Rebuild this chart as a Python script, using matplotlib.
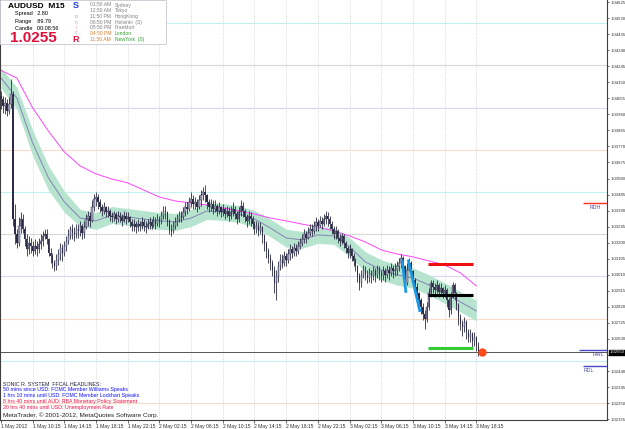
import numpy as np
import matplotlib.pyplot as plt
from matplotlib.patches import Rectangle
from matplotlib.transforms import blended_transform_factory

plt.rcParams['font.family'] = ['Liberation Sans', 'DejaVu Sans']

W, H = 625, 429

# AUDUSD M15 bars, 1 May 06:15 .. 3 May 18:45
first_open = 1.0407
closes = [
    1.0405, 1.0401, 1.0403, 1.0398, 1.0402, 1.0408, 1.0334, 1.0325, 1.0320, 1.0330,
    1.0334, 1.0328, 1.0322, 1.0316, 1.0320, 1.0318, 1.0315, 1.0318, 1.0316, 1.0319,
    1.0321, 1.0324, 1.0325, 1.0322, 1.0314, 1.0312, 1.0308, 1.0306, 1.0310, 1.0313,
    1.0317, 1.0314, 1.0318, 1.0321, 1.0324, 1.0328, 1.0326, 1.0325, 1.0328, 1.0327,
    1.0330, 1.0326, 1.0329, 1.0334, 1.0336, 1.0333, 1.0341, 1.0346, 1.0347, 1.0344,
    1.0341, 1.0339, 1.0341, 1.0338, 1.0339, 1.0336, 1.0335, 1.0337, 1.0334, 1.0336,
    1.0335, 1.0333, 1.0336, 1.0334, 1.0335, 1.0332, 1.0330, 1.0331, 1.0329, 1.0331,
    1.0330, 1.0332, 1.0330, 1.0329, 1.0331, 1.0332, 1.0330, 1.0333, 1.0331, 1.0334,
    1.0333, 1.0336, 1.0339, 1.0338, 1.0333, 1.0328, 1.0327, 1.0330, 1.0332, 1.0334,
    1.0336, 1.0335, 1.0338, 1.0341, 1.0340, 1.0344, 1.0346, 1.0343, 1.0344, 1.0341,
    1.0345, 1.0348, 1.0350, 1.0348, 1.0344, 1.0341, 1.0343, 1.0340, 1.0342, 1.0339,
    1.0341, 1.0338, 1.0340, 1.0337, 1.0339, 1.0336, 1.0338, 1.0340, 1.0337, 1.0334,
    1.0338, 1.0342, 1.0339, 1.0335, 1.0333, 1.0336, 1.0334, 1.0331, 1.0328, 1.0330,
    1.0327, 1.0329, 1.0324, 1.0319, 1.0315, 1.0311, 1.0308, 1.0304, 1.0296, 1.0300,
    1.0306, 1.0310, 1.0308, 1.0312, 1.0310, 1.0313, 1.0316, 1.0314, 1.0317, 1.0315,
    1.0318, 1.0320, 1.0322, 1.0325, 1.0323, 1.0326, 1.0328, 1.0327, 1.0330, 1.0332,
    1.0330, 1.0333, 1.0331, 1.0334, 1.0336, 1.0334, 1.0331, 1.0328, 1.0325, 1.0327,
    1.0323, 1.0321, 1.0324, 1.0320, 1.0317, 1.0314, 1.0316, 1.0312, 1.0309, 1.0306,
    1.0300, 1.0296, 1.0301, 1.0304, 1.0301, 1.0299, 1.0302, 1.0300, 1.0303, 1.0301,
    1.0304, 1.0302, 1.0300, 1.0303, 1.0301, 1.0304, 1.0302, 1.0305, 1.0303, 1.0304,
    1.0306, 1.0308, 1.0311, 1.0306, 1.0296, 1.0304, 1.0308, 1.0303, 1.0298, 1.0294,
    1.0290, 1.0286, 1.0282, 1.0278, 1.0275, 1.0282, 1.0290, 1.0296, 1.0294, 1.0292,
    1.0295, 1.0291, 1.0293, 1.0290, 1.0292, 1.0286, 1.0280, 1.0288, 1.0295, 1.0290,
    1.0283, 1.0276, 1.0272, 1.0270, 1.0273, 1.0267, 1.0264, 1.0266, 1.0262, 1.0264,
    1.0259, 1.0255,
]
highs = [
    1.0410, 1.0407, 1.0406, 1.0405, 1.0406, 1.0417, 1.0410, 1.0343, 1.0328, 1.0335,
    1.0338, 1.0337, 1.0330, 1.0325, 1.0324, 1.0323, 1.0321, 1.0322, 1.0321, 1.0323,
    1.0325, 1.0327, 1.0328, 1.0328, 1.0323, 1.0317, 1.0314, 1.0310, 1.0313, 1.0316,
    1.0320, 1.0319, 1.0321, 1.0324, 1.0328, 1.0330, 1.0331, 1.0329, 1.0331, 1.0331,
    1.0333, 1.0331, 1.0333, 1.0337, 1.0339, 1.0338, 1.0345, 1.0349, 1.0350, 1.0349,
    1.0346, 1.0343, 1.0344, 1.0342, 1.0342, 1.0340, 1.0338, 1.0339, 1.0338, 1.0339,
    1.0338, 1.0337, 1.0339, 1.0338, 1.0338, 1.0336, 1.0334, 1.0334, 1.0333, 1.0334,
    1.0333, 1.0335, 1.0334, 1.0333, 1.0334, 1.0335, 1.0334, 1.0336, 1.0335, 1.0337,
    1.0336, 1.0339, 1.0342, 1.0342, 1.0339, 1.0334, 1.0331, 1.0333, 1.0335, 1.0337,
    1.0339, 1.0339, 1.0341, 1.0344, 1.0344, 1.0347, 1.0350, 1.0348, 1.0347, 1.0346,
    1.0348, 1.0351, 1.0353, 1.0354, 1.0349, 1.0346, 1.0346, 1.0345, 1.0345, 1.0343,
    1.0344, 1.0342, 1.0343, 1.0341, 1.0342, 1.0341, 1.0342, 1.0344, 1.0342, 1.0339,
    1.0341, 1.0345, 1.0344, 1.0340, 1.0337, 1.0339, 1.0338, 1.0336, 1.0333, 1.0333,
    1.0332, 1.0332, 1.0330, 1.0325, 1.0321, 1.0317, 1.0313, 1.0310, 1.0306, 1.0304,
    1.0309, 1.0313, 1.0313, 1.0315, 1.0314, 1.0316, 1.0319, 1.0318, 1.0320, 1.0319,
    1.0321, 1.0323, 1.0325, 1.0328, 1.0327, 1.0329, 1.0331, 1.0331, 1.0333, 1.0335,
    1.0334, 1.0336, 1.0335, 1.0337, 1.0339, 1.0338, 1.0336, 1.0333, 1.0330, 1.0330,
    1.0328, 1.0325, 1.0326, 1.0325, 1.0321, 1.0318, 1.0319, 1.0317, 1.0314, 1.0311,
    1.0307, 1.0302, 1.0304, 1.0307, 1.0306, 1.0304, 1.0305, 1.0304, 1.0306, 1.0305,
    1.0307, 1.0306, 1.0304, 1.0306, 1.0305, 1.0307, 1.0306, 1.0308, 1.0307, 1.0308,
    1.0309, 1.0311, 1.0313, 1.0312, 1.0307, 1.0308, 1.0311, 1.0309, 1.0304, 1.0299,
    1.0296, 1.0291, 1.0287, 1.0284, 1.0280, 1.0285, 1.0293, 1.0298, 1.0298, 1.0296,
    1.0298, 1.0296, 1.0296, 1.0294, 1.0295, 1.0293, 1.0287, 1.0291, 1.0297, 1.0296,
    1.0291, 1.0284, 1.0278, 1.0274, 1.0276, 1.0274, 1.0269, 1.0269, 1.0267, 1.0267,
    1.0265, 1.0261,
]
lows = [
    1.0399, 1.0397, 1.0396, 1.0395, 1.0396, 1.0400, 1.0330, 1.0319, 1.0317, 1.0318,
    1.0326, 1.0326, 1.0318, 1.0312, 1.0313, 1.0314, 1.0312, 1.0313, 1.0312, 1.0314,
    1.0316, 1.0318, 1.0322, 1.0319, 1.0312, 1.0308, 1.0305, 1.0303, 1.0304, 1.0307,
    1.0310, 1.0309, 1.0312, 1.0315, 1.0319, 1.0322, 1.0322, 1.0321, 1.0323, 1.0323,
    1.0324, 1.0322, 1.0323, 1.0328, 1.0330, 1.0329, 1.0332, 1.0339, 1.0342, 1.0340,
    1.0338, 1.0336, 1.0337, 1.0335, 1.0335, 1.0333, 1.0332, 1.0333, 1.0331, 1.0332,
    1.0332, 1.0330, 1.0332, 1.0331, 1.0332, 1.0329, 1.0327, 1.0327, 1.0326, 1.0327,
    1.0327, 1.0328, 1.0327, 1.0326, 1.0328, 1.0328, 1.0328, 1.0329, 1.0328, 1.0330,
    1.0329, 1.0331, 1.0334, 1.0334, 1.0330, 1.0325, 1.0324, 1.0326, 1.0328, 1.0330,
    1.0332, 1.0332, 1.0334, 1.0336, 1.0337, 1.0339, 1.0341, 1.0340, 1.0340, 1.0338,
    1.0340, 1.0342, 1.0345, 1.0344, 1.0340, 1.0338, 1.0339, 1.0337, 1.0338, 1.0336,
    1.0337, 1.0335, 1.0336, 1.0334, 1.0335, 1.0333, 1.0334, 1.0336, 1.0334, 1.0331,
    1.0332, 1.0336, 1.0335, 1.0332, 1.0329, 1.0331, 1.0330, 1.0328, 1.0325, 1.0326,
    1.0324, 1.0325, 1.0320, 1.0315, 1.0311, 1.0308, 1.0304, 1.0300, 1.0290, 1.0286,
    1.0297, 1.0304, 1.0305, 1.0306, 1.0306, 1.0308, 1.0310, 1.0311, 1.0312, 1.0312,
    1.0313, 1.0316, 1.0318, 1.0320, 1.0320, 1.0322, 1.0324, 1.0324, 1.0325, 1.0327,
    1.0327, 1.0329, 1.0328, 1.0330, 1.0331, 1.0330, 1.0328, 1.0325, 1.0322, 1.0322,
    1.0320, 1.0318, 1.0319, 1.0317, 1.0314, 1.0311, 1.0311, 1.0309, 1.0306, 1.0303,
    1.0297, 1.0292, 1.0294, 1.0299, 1.0298, 1.0296, 1.0297, 1.0296, 1.0298, 1.0297,
    1.0299, 1.0298, 1.0297, 1.0298, 1.0297, 1.0299, 1.0298, 1.0300, 1.0299, 1.0300,
    1.0301, 1.0303, 1.0305, 1.0302, 1.0292, 1.0295, 1.0303, 1.0300, 1.0295, 1.0290,
    1.0286, 1.0282, 1.0278, 1.0274, 1.0269, 1.0273, 1.0280, 1.0288, 1.0290, 1.0288,
    1.0290, 1.0288, 1.0289, 1.0287, 1.0288, 1.0282, 1.0276, 1.0278, 1.0287, 1.0286,
    1.0280, 1.0271, 1.0268, 1.0265, 1.0267, 1.0263, 1.0261, 1.0261, 1.0258, 1.0259,
    1.0256, 1.0253,
]

# indicator lines, read every 8 bars
ma_bars = [0, 8, 16, 24, 32, 40, 48, 56, 64, 72, 80, 88, 96, 104, 112, 120,
           128, 136, 144, 152, 160, 168, 176, 184, 192, 200, 208, 216, 224, 232, 240]
ma_slow = [1.04220, 1.04175, 1.03998, 1.03860, 1.03737, 1.03654, 1.03607, 1.03577,
           1.03554, 1.03512, 1.03470, 1.03447, 1.03435, 1.03423, 1.03406, 1.03388,
           1.03370, 1.03346, 1.03329, 1.03310, 1.03293, 1.03269, 1.03240, 1.03204,
           1.03157, 1.03133, 1.03116, 1.03092, 1.03068, 1.03021, 1.02944]
ma_mid = [1.04175, 1.04057, 1.03790, 1.03583, 1.03441, 1.03346, 1.03329, 1.03364,
          1.03352, 1.03340, 1.03329, 1.03323, 1.03346, 1.03388, 1.03382, 1.03370,
          1.03340, 1.03287, 1.03228, 1.03216, 1.03246, 1.03240, 1.03175, 1.03086,
          1.03039, 1.03009, 1.02991, 1.02950, 1.02902, 1.02849, 1.02796]
band_hi = [1.04235, 1.04120, 1.03865, 1.03655, 1.03505, 1.03396, 1.03379, 1.03414,
           1.03402, 1.03390, 1.03379, 1.03373, 1.03396, 1.03438, 1.03432, 1.03420,
           1.03390, 1.03340, 1.03280, 1.03266, 1.03296, 1.03290, 1.03230, 1.03146,
           1.03099, 1.03069, 1.03051, 1.03010, 1.02962, 1.02910, 1.02860]
band_lo = [1.04115, 1.03990, 1.03715, 1.03510, 1.03380, 1.03296, 1.03279, 1.03314,
           1.03302, 1.03290, 1.03279, 1.03273, 1.03296, 1.03338, 1.03332, 1.03320,
           1.03290, 1.03235, 1.03175, 1.03166, 1.03196, 1.03190, 1.03120, 1.03026,
           1.02979, 1.02949, 1.02931, 1.02890, 1.02842, 1.02790, 1.02736]

# drawn objects
level_prices = [1.0450, 1.0425, 1.0400, 1.0375, 1.0350, 1.0325, 1.0300, 1.0275, 1.0250, 1.0225]
level_colors = ['#c4f0f0', '#d8d8d8', '#d8d8f4', '#f6dcc8', '#c4f0f0', '#d8d8d8',
                '#d8d8f4', '#f6dcc8', '#c4f0f0', '#f6dcc8']
seg_start, seg_end = 215.7, 238.4
red_level, black_level, green_level = 1.03074, 1.02891, 1.02577
blue_line1 = ([202.5, 204.5], [1.0310, 1.02903])
blue_line2 = ([205.6, 211.6], [1.0310, 1.02790])
bid = 1.02550
rdh, rwl, rdl = 1.03435, 1.02565, 1.02470

price_ticks = [1.02155, 1.02250, 1.02345, 1.02440, 1.02535, 1.02630, 1.02725, 1.02820,
               1.02915, 1.03010, 1.03105, 1.03200, 1.03295, 1.03390, 1.03485, 1.03580,
               1.03675, 1.03770, 1.03865, 1.03960, 1.04055, 1.04150, 1.04245, 1.04340,
               1.04435, 1.04530, 1.04625]
time_ticks = [0, 16, 32, 48, 64, 80, 96, 112, 128, 144, 160, 176, 192, 208, 224, 240]
time_labels = ['1 May 2012', '1 May 10:15', '1 May 14:15', '1 May 18:15', '1 May 22:15',
               '2 May 02:15', '2 May 06:15', '2 May 10:15', '2 May 14:15', '2 May 18:15',
               '2 May 22:15', '3 May 02:15', '3 May 06:15', '3 May 10:15', '3 May 14:15',
               '3 May 18:15']

sessions = [('01:50 AM', 'Sydney'), ('12:50 AM', 'Tokyo'), ('11:50 PM', 'HongKong'),
            ('06:50 PM', 'Helsinki  (S)'), ('05:50 PM', 'Frankfurt'),
            ('04:50 PM', 'London'), ('11:50 AM', 'NewYork  (S)')]
headlines = ['50 mins since USD: FOMC Member Williams Speaks',
             '1 hrs 10 mins until USD: FOMC Member Lockhart Speaks',
             '8 hrs 40 mins until AUD: RBA Monetary Policy Statement',
             '20 hrs 40 mins until USD: Unemployment Rate']
headline_colors = ['#1010ff', '#1010ff', '#ee1144', '#ee1144']


def fx(x):
    return x / W


def fy(y):
    return 1 - y / H


fig = plt.figure(figsize=(W / 100, H / 100), dpi=100)
ax = fig.add_axes([0, fy(420), fx(607), 420 / H])
ax.set_xlim(-0.5, 306)
ax.set_ylim(1.02150, 1.04637)

# levels and grid
for p, col in zip(level_prices, level_colors):
    ax.axhline(p, color=col, lw=0.8, zorder=0.5)
for t in time_ticks[1:]:
    ax.axvline(t, color='#c8c8c8', lw=0.5, ls=(0, (1.5, 2)), zorder=0.6)

ax.fill_between(ma_bars, band_lo, band_hi, color='#b6e4cf', lw=0, zorder=1)
ax.plot(ma_bars, ma_mid, color='#8484b4', lw=0.7, zorder=1.5)
ax.plot(ma_bars, ma_slow, color='#ff44ff', lw=0.7, zorder=1.6)

# candles
x = np.arange(len(closes))
c = np.array(closes)
o = np.array([first_open] + closes[:-1])
up = c >= o
ax.vlines(x, lows, highs, color='#2c2c46', lw=0.6, zorder=3)
ax.bar(x[up], (c - o)[up], bottom=o[up], width=0.7, color='#a4a4bc',
       edgecolor='#2c2c46', lw=0.3, zorder=4)
ax.bar(x[~up], (o - c)[~up], bottom=c[~up], width=0.7, color='#2c2c46', lw=0, zorder=4)

ax.axhline(bid, color='#555555', lw=0.7, zorder=2)

ax.hlines(red_level, seg_start, seg_end, color='#ee1010', lw=2.2, zorder=6)
ax.hlines(black_level, seg_start, seg_end, color='#000000', lw=2.2, zorder=6)
ax.hlines(green_level, seg_start, seg_end, color='#33cc33', lw=2.2, zorder=6)
ax.plot(*blue_line1, color='#1a9ae6', lw=2.0, zorder=6, solid_capstyle='butt')
ax.plot(*blue_line2, color='#1a9ae6', lw=2.0, zorder=6, solid_capstyle='butt')
ax.plot([243], [bid], 'o', ms=5, color='#ff4a1a', mec='#ff4a1a', zorder=7)

ax.hlines(rdh, 294, 306, color='#ff3020', lw=1.0, zorder=6)
ax.hlines(rwl, 292, 306, color='#4848c8', lw=1.0, zorder=6)
ax.hlines(rdl, 294, 306, color='#4848c8', lw=1.0, zorder=6)
ax.text(297, rdh - 0.00025, 'RDH', fontsize=3.8, color='#4848a0', va='center', zorder=7)
ax.text(298.5, rwl - 0.00025, 'RWL', fontsize=3.8, color='#4848a0', va='center', zorder=7)
ax.text(294, rdl - 0.00028, 'RDL', fontsize=3.8, color='#4848a0', va='center', zorder=7)

# axes styling
for s in ['left', 'bottom', 'right']:
    ax.spines[s].set_color('#404040')
    ax.spines[s].set_linewidth(0.8)
ax.spines['top'].set_visible(False)
ax.yaxis.tick_right()
ax.set_yticks(price_ticks)
ax.set_yticklabels(['%.5f' % p for p in price_ticks])
ax.tick_params(axis='y', labelsize=3.1, length=1.5, pad=0.8, colors='#303030', width=0.5)
ax.set_xticks(time_ticks)
ax.set_xticklabels(time_labels, ha='left')
ax.tick_params(axis='x', labelsize=3.6, length=2, pad=1, colors='#303030', width=0.5)

tr = blended_transform_factory(ax.transAxes, ax.transData)
ax.text(1.0 + 2.5 / 607, bid, '%.5f' % bid, transform=tr, fontsize=3.1, color='white',
        va='center', ha='left', clip_on=False, zorder=20,
        bbox=dict(boxstyle='square,pad=0.12', fc='black', ec='black'))

# info panel
fig.add_artist(Rectangle((0, fy(44)), fx(166), 44 / H, transform=fig.transFigure,
                         facecolor='white', edgecolor='#c8c8d4', lw=0.6, zorder=10))
fig.text(fx(8), fy(6), 'AUDUSD  M15', fontsize=6, weight='bold', va='center', zorder=11)
fig.text(fx(15), fy(14), 'Spread   2.80', fontsize=4, va='center', zorder=11)
fig.text(fx(15), fy(21), 'Range    89.79', fontsize=4, va='center', zorder=11)
fig.text(fx(15), fy(28), 'Candle   00:08:56', fontsize=4, va='center', zorder=11)
fig.text(fx(10), fy(38), '1.0255', fontsize=11, weight='bold', color='#e0103c',
         va='center', zorder=11)
fig.text(fx(76), fy(6), 'S', fontsize=6.5, weight='bold', color='#2040e0',
         va='center', ha='center', zorder=11)
for ch, yy, col in [('o', 16, '#8090d0'), ('n', 22, '#e090b0'), ('i', 27.5, '#e090b0'),
                    ('c', 33, '#e090b0')]:
    fig.text(fx(76), fy(yy), ch, fontsize=3.5, color=col, va='center', ha='center', zorder=11)
fig.text(fx(76), fy(39), 'R', fontsize=6.5, weight='bold', color='#e0103c',
         va='center', ha='center', zorder=11)
for i, (tm, city) in enumerate(sessions):
    yy = 5 + i * 5.7
    late = city.startswith('London') or city.startswith('NewYork')
    fig.text(fx(90), fy(yy), tm, fontsize=3.6, color='#d08030' if late else '#808080',
             va='center', zorder=11)
    fig.text(fx(115), fy(yy), city, fontsize=3.6, color='#30a030' if late else '#808080',
             va='center', zorder=11)

# headlines
fig.text(fx(3), fy(384), 'SONIC R. SYSTEM  FFCAL HEADLINES:', fontsize=3.8, color='#202040',
         va='center')
for i, (txt, col) in enumerate(zip(headlines, headline_colors)):
    fig.text(fx(3), fy(390 + i * 5.7), txt, fontsize=3.8, color=col, va='center')
fig.text(fx(3), fy(415.5), 'MetaTrader, \u00a9 2001-2012, MetaQuotes Software Corp.',
         fontsize=4.6, color='#202020', va='center')

fig.savefig('out.png', dpi=100)
